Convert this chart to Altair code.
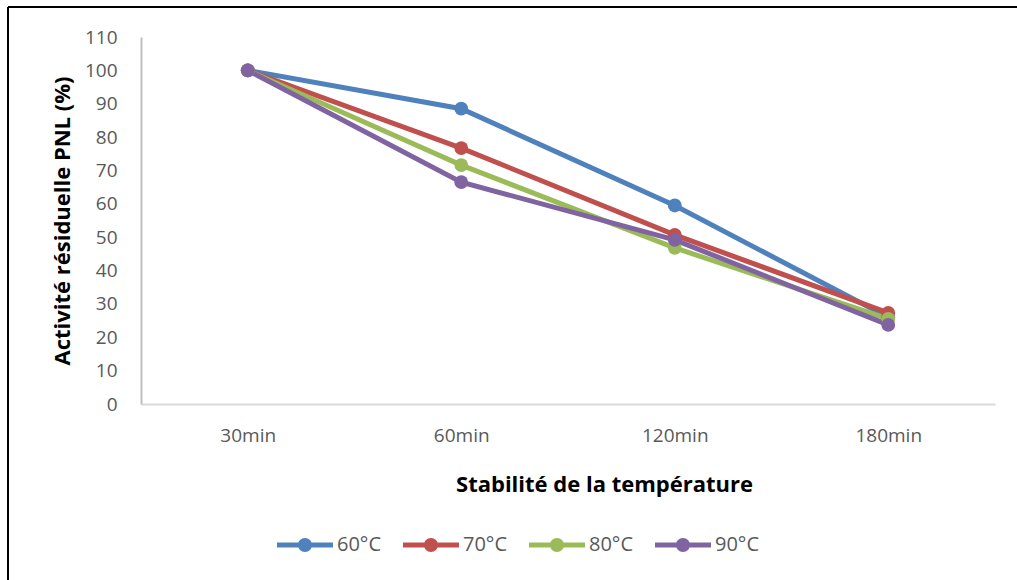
import altair as alt
import pandas as pd

times = ["30min", "60min", "120min", "180min"]
series = ["60°C", "70°C", "80°C", "90°C"]
v60 = [100, 88.5, 59.5, 26.0]
v70 = [100, 76.7, 50.7, 27.3]
v80 = [100, 71.6, 46.8, 25.5]
v90 = [100, 66.5, 49.2, 23.7]
colors = ["#4f81bd", "#c0504d", "#9bbb59", "#8064a2"]

rows = []
for s, vals in zip(series, [v60, v70, v80, v90]):
    for i, (t, v) in enumerate(zip(times, vals)):
        rows.append({"time": t, "series": s, "value": v, "order": i})
df = pd.DataFrame(rows)

FONT = "Open Sans"
W, H = 854, 367
PL, PT = 141, 37

legend_path = ("M-4,-0.36 L4,-0.36 L4,0.36 L-4,0.36 Z "
               "M-1,0 A1,1 0 1,1 1,0 A1,1 0 1,1 -1,0 Z")

xenc = alt.X("time:N", sort=times, scale=alt.Scale(paddingOuter=0.5, paddingInner=0),
             axis=alt.Axis(title="Stabilité de la température", labelAngle=0, ticks=False,
                           domainColor="#d9d9d9", domainWidth=2, labelPadding=22,
                           titlePadding=29, titleX=463, titleAlign="center"))
yenc = alt.Y("value:Q", scale=alt.Scale(domain=[0, 110], nice=False),
             axis=alt.Axis(title="Activité résiduelle PNL (%)", values=list(range(0, 111, 10)),
                           ticks=False, grid=False, domainColor="#bfbfbf", domainWidth=2,
                           labelPadding=24, titlePadding=10))
legend = alt.Legend(title=None, orient="none", direction="horizontal",
                    legendX=154, legendY=498, symbolType=legend_path,
                    symbolSize=196, symbolStrokeWidth=0, labelOffset=22,
                    columnPadding=21, labelFontSize=20, labelFont=FONT,
                    labelColor="#595959", padding=0, symbolOpacity=1)
color = alt.Color("series:N", sort=series, scale=alt.Scale(domain=series, range=colors),
                  legend=legend)

base = alt.Chart(df)
lines = base.mark_line(strokeWidth=5).encode(
    x=xenc, y=yenc, color=color, order="order:Q", detail="series:N")
points = base.mark_point(filled=True, size=190, opacity=1).encode(
    x=xenc, y=yenc, color=color)

border = pd.DataFrame({"k": [0]})
top_line = alt.Chart(border).mark_rule(color="black", strokeWidth=2).encode(
    x=alt.value(8 - PL), x2=alt.value(1017 - PL), y=alt.value(7 - PT))
left_line = alt.Chart(border).mark_rule(color="black", strokeWidth=2).encode(
    x=alt.value(8 - PL), y=alt.value(7 - PT), y2=alt.value(580 - PT))

chart = alt.layer(lines, points, top_line, left_line).properties(
    width=W, height=H,
    background="white",
    padding={"left": PL, "top": PT, "right": 1017 - PL - W, "bottom": 580 - PT - H},
    autosize=alt.AutoSizeParams(type="none"),
).configure_view(stroke=None).configure_axis(
    labelFont=FONT, labelFontSize=19, labelColor="#595959",
    titleFont=FONT, titleFontSize=22, titleFontWeight="bold", titleColor="black",
)

chart.save("out.html", embed_options={"renderer": "svg", "actions": False})
